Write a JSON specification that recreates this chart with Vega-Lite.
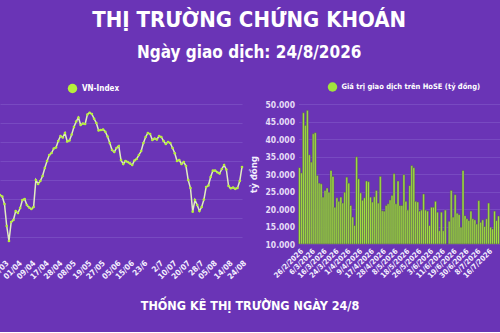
{
  "$schema": "https://vega.github.io/schema/vega-lite/v6.json",
  "background": "#6a34b6",
  "padding": {"left": -12, "top": 9, "right": 0, "bottom": 11},
  "config": {
    "font": "DejaVu Sans Condensed",
    "view": {"stroke": null},
    "axis": {
      "domain": false,
      "ticks": false,
      "gridColor": "#7c50c4",
      "gridWidth": 0.8,
      "labelFont": "DejaVu Sans Condensed",
      "labelFontWeight": "bold",
      "labelColor": "#f1ebff",
      "titleFont": "DejaVu Sans Condensed"
    },
    "legend": {
      "labelFont": "DejaVu Sans Condensed",
      "labelFontWeight": "bold",
      "labelColor": "white",
      "labelFontSize": 7.5
    }
  },
  "title": {
    "text": "THỊ TRƯỜNG CHỨNG KHOÁN",
    "subtitle": "Ngày giao dịch: 24/8/2026",
    "anchor": "middle",
    "dx": 5,
    "font": "DejaVu Sans Condensed",
    "fontSize": 22,
    "fontWeight": "bold",
    "color": "white",
    "subtitleFont": "DejaVu Sans Condensed",
    "subtitleFontSize": 17,
    "subtitleFontWeight": "bold",
    "subtitleColor": "white",
    "subtitlePadding": 13,
    "offset": 20
  },
  "spacing": 10,
  "vconcat": [
    {
      "bounds": "flush",
      "spacing": 56.5,
      "resolve": {"scale": {"color": "independent"}, "legend": {"color": "independent"}},
      "hconcat": [
        {
          "width": 242,
          "height": 152,
          "data": {"values": [
            {"date": "20/03", "vnindex": 1660.5}, {"date": "23/03", "vnindex": 1656.6}, {"date": "24/03", "vnindex": 1636.8},
            {"date": "25/03", "vnindex": 1578.9}, {"date": "26/03", "vnindex": 1539.5}, {"date": "27/03", "vnindex": 1589.5},
            {"date": "30/03", "vnindex": 1594.7}, {"date": "31/03", "vnindex": 1618.4}, {"date": "01/04", "vnindex": 1613.2},
            {"date": "02/04", "vnindex": 1626.3}, {"date": "03/04", "vnindex": 1647.4}, {"date": "06/04", "vnindex": 1650.0},
            {"date": "07/04", "vnindex": 1634.2}, {"date": "08/04", "vnindex": 1627.6}, {"date": "09/04", "vnindex": 1623.7},
            {"date": "10/04", "vnindex": 1628.9}, {"date": "13/04", "vnindex": 1700.0}, {"date": "14/04", "vnindex": 1689.5},
            {"date": "15/04", "vnindex": 1697.4}, {"date": "16/04", "vnindex": 1710.5}, {"date": "17/04", "vnindex": 1731.6},
            {"date": "20/04", "vnindex": 1750.0}, {"date": "21/04", "vnindex": 1765.8}, {"date": "22/04", "vnindex": 1771.1},
            {"date": "23/04", "vnindex": 1782.9}, {"date": "24/04", "vnindex": 1785.5}, {"date": "28/04", "vnindex": 1802.6},
            {"date": "29/04", "vnindex": 1815.8}, {"date": "04/05", "vnindex": 1811.8}, {"date": "05/05", "vnindex": 1823.7},
            {"date": "06/05", "vnindex": 1801.3}, {"date": "07/05", "vnindex": 1803.9}, {"date": "08/05", "vnindex": 1819.7},
            {"date": "11/05", "vnindex": 1839.5}, {"date": "12/05", "vnindex": 1853.9}, {"date": "13/05", "vnindex": 1864.5},
            {"date": "14/05", "vnindex": 1844.7}, {"date": "15/05", "vnindex": 1848.7}, {"date": "18/05", "vnindex": 1847.4},
            {"date": "19/05", "vnindex": 1872.4}, {"date": "20/05", "vnindex": 1877.1}, {"date": "21/05", "vnindex": 1873.7},
            {"date": "22/05", "vnindex": 1861.1}, {"date": "25/05", "vnindex": 1850.0}, {"date": "26/05", "vnindex": 1830.3},
            {"date": "27/05", "vnindex": 1831.6}, {"date": "28/05", "vnindex": 1832.9}, {"date": "29/05", "vnindex": 1827.1},
            {"date": "01/06", "vnindex": 1814.5}, {"date": "02/06", "vnindex": 1797.4}, {"date": "03/06", "vnindex": 1778.9},
            {"date": "04/06", "vnindex": 1773.7}, {"date": "05/06", "vnindex": 1784.2}, {"date": "08/06", "vnindex": 1789.5},
            {"date": "09/06", "vnindex": 1752.6}, {"date": "10/06", "vnindex": 1742.1}, {"date": "11/06", "vnindex": 1750.0},
            {"date": "12/06", "vnindex": 1747.4}, {"date": "15/06", "vnindex": 1743.9}, {"date": "16/06", "vnindex": 1739.5},
            {"date": "17/06", "vnindex": 1751.3}, {"date": "18/06", "vnindex": 1755.3}, {"date": "19/06", "vnindex": 1765.8},
            {"date": "22/06", "vnindex": 1776.3}, {"date": "23/6", "vnindex": 1797.4}, {"date": "24/06", "vnindex": 1813.2},
            {"date": "25/06", "vnindex": 1823.7}, {"date": "26/06", "vnindex": 1821.1}, {"date": "29/06", "vnindex": 1805.3},
            {"date": "30/06", "vnindex": 1809.2}, {"date": "01/07", "vnindex": 1806.6}, {"date": "2/7", "vnindex": 1815.8},
            {"date": "03/07", "vnindex": 1813.2}, {"date": "06/07", "vnindex": 1802.6}, {"date": "07/07", "vnindex": 1794.7},
            {"date": "08/07", "vnindex": 1800.0}, {"date": "09/07", "vnindex": 1797.4}, {"date": "10/07", "vnindex": 1784.2},
            {"date": "13/07", "vnindex": 1770.3}, {"date": "14/07", "vnindex": 1750.0}, {"date": "15/07", "vnindex": 1752.6},
            {"date": "16/07", "vnindex": 1742.1}, {"date": "17/07", "vnindex": 1747.4}, {"date": "20/07", "vnindex": 1736.8},
            {"date": "21/07", "vnindex": 1700.0}, {"date": "22/07", "vnindex": 1678.9}, {"date": "23/07", "vnindex": 1616.6},
            {"date": "24/07", "vnindex": 1647.4}, {"date": "27/07", "vnindex": 1634.2}, {"date": "28/7", "vnindex": 1618.4},
            {"date": "29/07", "vnindex": 1628.9}, {"date": "30/07", "vnindex": 1648.7}, {"date": "31/07", "vnindex": 1681.6},
            {"date": "03/08", "vnindex": 1685.5}, {"date": "04/08", "vnindex": 1707.9}, {"date": "05/08", "vnindex": 1724.5},
            {"date": "06/08", "vnindex": 1725.0}, {"date": "07/08", "vnindex": 1720.3}, {"date": "10/08", "vnindex": 1717.1},
            {"date": "11/08", "vnindex": 1728.9}, {"date": "12/08", "vnindex": 1739.5}, {"date": "13/08", "vnindex": 1727.6},
            {"date": "14/08", "vnindex": 1684.2}, {"date": "17/08", "vnindex": 1678.2}, {"date": "18/08", "vnindex": 1680.3},
            {"date": "19/08", "vnindex": 1676.8}, {"date": "20/08", "vnindex": 1678.9}, {"date": "21/08", "vnindex": 1697.4},
            {"date": "24/08", "vnindex": 1734.2}
          ]},
          "encoding": {
            "x": {
              "field": "date",
              "type": "ordinal",
              "sort": null,
              "scale": {"type": "point", "padding": 0},
              "axis": {
                "title": null,
                "values": ["24/03", "01/04", "09/04", "17/04", "28/04", "08/05", "19/05", "27/05", "05/06", "15/06", "23/6", "2/7", "10/07", "20/07", "28/7", "05/08", "14/08", "24/08"],
                "labelAngle": -45,
                "labelFontSize": 8,
                "labelColor": "#f4efff",
                "labelPadding": 3
              }
            },
            "y": {
              "field": "vnindex",
              "type": "quantitative",
              "scale": {"domain": [1500, 1900]},
              "axis": {
                "title": null,
                "labels": false,
                "values": [1550, 1600, 1650, 1700, 1750, 1800, 1850, 1900],
                "grid": true
              }
            }
          },
          "layer": [
            {"mark": {"type": "line", "color": "#e2ecc2", "strokeWidth": 1.5}},
            {
              "mark": {"type": "point", "filled": true, "size": 7, "opacity": 1},
              "encoding": {
                "color": {
                  "datum": "VN-Index",
                  "scale": {"range": ["#b6ef3c"]},
                  "legend": {
                    "title": null,
                    "orient": "none",
                    "legendX": 67,
                    "legendY": -21,
                    "symbolType": "circle",
                    "symbolSize": 90,
                    "symbolOpacity": 1,
                    "labelFontSize": 8
                  }
                }
              }
            }
          ]
        },
        {
          "width": 201,
          "height": 140,
          "data": {"values": [
            {"date": "26/2/2026", "value": 31800}, {"date": "27/2/2026", "value": 30300}, {"date": "2/3/2026", "value": 47500},
            {"date": "3/3/2026", "value": 43900}, {"date": "4/3/2026", "value": 48200}, {"date": "5/3/2026", "value": 35500},
            {"date": "6/3/2026", "value": 33400}, {"date": "9/3/2026", "value": 41500}, {"date": "10/3/2026", "value": 41800},
            {"date": "11/3/2026", "value": 29600}, {"date": "12/3/2026", "value": 27400}, {"date": "13/3/2026", "value": 27200},
            {"date": "16/3/2026", "value": 23400}, {"date": "17/3/2026", "value": 25300}, {"date": "18/3/2026", "value": 26000},
            {"date": "19/3/2026", "value": 24800}, {"date": "20/3/2026", "value": 31000}, {"date": "23/3/2026", "value": 29300},
            {"date": "24/3/2026", "value": 20500}, {"date": "25/3/2026", "value": 23200}, {"date": "26/3/2026", "value": 22200},
            {"date": "27/3/2026", "value": 23400}, {"date": "30/3/2026", "value": 21700}, {"date": "31/3/2026", "value": 24800},
            {"date": "1/4/2026", "value": 29100}, {"date": "2/4/2026", "value": 27400}, {"date": "3/4/2026", "value": 21000},
            {"date": "6/4/2026", "value": 17700}, {"date": "7/4/2026", "value": 15300}, {"date": "8/4/2026", "value": 34900},
            {"date": "9/4/2026", "value": 28600}, {"date": "10/4/2026", "value": 24600}, {"date": "13/4/2026", "value": 22500},
            {"date": "14/4/2026", "value": 23200}, {"date": "15/4/2026", "value": 28000}, {"date": "16/4/2026", "value": 27800},
            {"date": "17/4/2026", "value": 23400}, {"date": "20/4/2026", "value": 22000}, {"date": "21/4/2026", "value": 23500},
            {"date": "22/4/2026", "value": 25300}, {"date": "23/4/2026", "value": 21700}, {"date": "24/4/2026", "value": 29300},
            {"date": "28/4/2026", "value": 19500}, {"date": "29/4/2026", "value": 19400}, {"date": "4/5/2026", "value": 21000},
            {"date": "5/5/2026", "value": 21500}, {"date": "6/5/2026", "value": 22600}, {"date": "7/5/2026", "value": 23900},
            {"date": "8/5/2026", "value": 30100}, {"date": "11/5/2026", "value": 21500}, {"date": "12/5/2026", "value": 28000},
            {"date": "13/5/2026", "value": 21000}, {"date": "14/5/2026", "value": 21000}, {"date": "15/5/2026", "value": 29800},
            {"date": "18/5/2026", "value": 22200}, {"date": "19/5/2026", "value": 19700}, {"date": "20/5/2026", "value": 26700},
            {"date": "21/5/2026", "value": 32400}, {"date": "22/5/2026", "value": 31800}, {"date": "25/5/2026", "value": 22200},
            {"date": "26/5/2026", "value": 22000}, {"date": "27/5/2026", "value": 19400}, {"date": "28/5/2026", "value": 19700},
            {"date": "29/5/2026", "value": 24300}, {"date": "1/6/2026", "value": 19700}, {"date": "2/6/2026", "value": 19400},
            {"date": "3/6/2026", "value": 15300}, {"date": "4/6/2026", "value": 20500}, {"date": "5/6/2026", "value": 20500},
            {"date": "8/6/2026", "value": 22200}, {"date": "9/6/2026", "value": 19100}, {"date": "10/6/2026", "value": 13800},
            {"date": "11/6/2026", "value": 19100}, {"date": "12/6/2026", "value": 13800}, {"date": "15/6/2026", "value": 19700},
            {"date": "16/6/2026", "value": 10000}, {"date": "17/6/2026", "value": 16500}, {"date": "18/6/2026", "value": 25300},
            {"date": "19/6/2026", "value": 17700}, {"date": "22/6/2026", "value": 24100}, {"date": "23/6/2026", "value": 18800},
            {"date": "24/6/2026", "value": 18400}, {"date": "26/6/2026", "value": 14800}, {"date": "29/6/2026", "value": 31000},
            {"date": "30/6/2026", "value": 18100}, {"date": "1/7/2026", "value": 17200}, {"date": "2/7/2026", "value": 16700},
            {"date": "3/7/2026", "value": 19400}, {"date": "6/7/2026", "value": 17200}, {"date": "7/7/2026", "value": 16900},
            {"date": "8/7/2026", "value": 15700}, {"date": "9/7/2026", "value": 22400}, {"date": "10/7/2026", "value": 16200},
            {"date": "13/7/2026", "value": 16900}, {"date": "14/7/2026", "value": 15000}, {"date": "15/7/2026", "value": 17200},
            {"date": "16/7/2026", "value": 21700}, {"date": "17/7/2026", "value": 14800}, {"date": "20/7/2026", "value": 14300},
            {"date": "21/7/2026", "value": 19400}, {"date": "22/7/2026", "value": 16700}, {"date": "23/7/2026", "value": 18000}
          ]},
          "mark": {"type": "bar", "stroke": "#565656", "strokeWidth": 0.5},
          "encoding": {
            "x": {
              "field": "date",
              "type": "ordinal",
              "sort": null,
              "scale": {"paddingInner": 0, "paddingOuter": 0},
              "axis": {
                "title": null,
                "values": ["26/2/2026", "6/3/2026", "16/3/2026", "24/3/2026", "1/4/2026", "9/4/2026", "17/4/2026", "28/4/2026", "8/5/2026", "18/5/2026", "26/5/2026", "3/6/2026", "11/6/2026", "19/6/2026", "30/6/2026", "8/7/2026", "16/7/2026"],
                "labelAngle": -45,
                "labelFontSize": 7.5,
                "labelColor": "#f4efff",
                "labelPadding": 3
              }
            },
            "y": {
              "field": "value",
              "type": "quantitative",
              "scale": {"domain": [10000, 50000]},
              "axis": {
                "title": "tỷ đồng",
                "titleColor": "#f4efff",
                "titleFontSize": 9.5,
                "titleFontWeight": "bold",
                "titlePadding": 6,
                "values": [10000, 15000, 20000, 25000, 30000, 35000, 40000, 45000, 50000],
                "labelExpr": "replace(format(datum.value, ','), ',', '.')",
                "labelFontSize": 8.5,
                "labelColor": "#e6dcf7",
                "labelPadding": 4,
                "grid": true
              }
            },
            "y2": {"datum": 10000},
            "color": {
              "datum": "Giá trị giao dịch trên HoSE (tỷ đồng)",
              "scale": {"range": ["#a2e33e"]},
              "legend": {
                "title": null,
                "orient": "none",
                "legendX": 29,
                "legendY": -22,
                "symbolType": "circle",
                "symbolSize": 90,
                "symbolStrokeWidth": 0
              }
            }
          }
        }
      ]
    },
    {
      "width": 500,
      "height": 30,
      "data": {"values": [{"label": "THỐNG KÊ THỊ TRƯỜNG NGÀY 24/8"}]},
      "mark": {"type": "text", "font": "DejaVu Sans Condensed", "fontSize": 12.5, "fontWeight": "bold", "color": "white"},
      "encoding": {"text": {"field": "label"}}
    }
  ]
}
